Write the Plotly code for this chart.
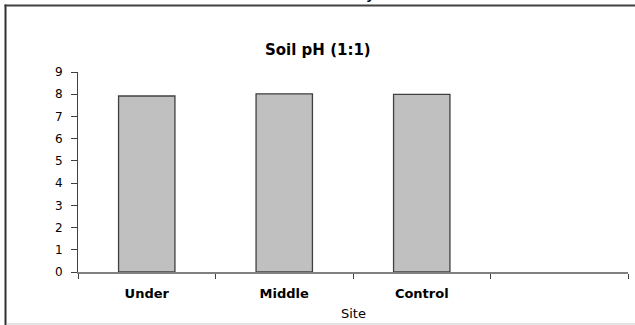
import plotly.graph_objects as go

categories = ["Under", "Middle", "Control", " "]
ph_values = [7.92, 8.02, 7.99, None]
y_ticks = [0, 1, 2, 3, 4, 5, 6, 7, 8, 9]
chart_title = "Soil pH (1:1)"
x_title = "Site"

W, H = 635, 325
L, R, T, B = 78, 7, 72, 53
pw, ph = W - L - R, H - T - B

def px(x):
    return (x - L) / pw

def py(y):
    return (H - B - y) / ph

fig = go.Figure()
fig.add_trace(go.Bar(
    x=categories, y=ph_values,
    marker=dict(color="#C0C0C0", line=dict(color="#404040", width=1.3)),
    width=0.41,
))

font = "DejaVu Sans, Verdana, sans-serif"
fig.update_layout(
    width=W, height=H,
    margin=dict(l=L, r=R, t=T, b=B),
    paper_bgcolor="white", plot_bgcolor="white",
    showlegend=False,
    font=dict(family=font, color="black", size=12),
    xaxis=dict(
        type="category", categoryorder="array", categoryarray=categories,
        range=[-0.5, 3.5], tickson="boundaries",
        showline=True, linecolor="#808080", linewidth=2,
        ticks="outside", ticklen=5, tickcolor="#404040", tickwidth=1,
        showgrid=False, zeroline=False,
        tickfont=dict(family=font, size=13, color="black", weight="bold"),
        ticklabelstandoff=8,
    ),
    yaxis=dict(
        range=[0, 9], tickvals=y_ticks,
        showline=True, linecolor="#404040", linewidth=1,
        ticks="outside", ticklen=6, tickcolor="#404040", tickwidth=1,
        showgrid=False, zeroline=False,
        tickfont=dict(family=font, size=12, color="black"),
        ticklabelstandoff=6,
    ),
    shapes=[
        dict(type="line", xref="paper", yref="paper", x0=px(5.5), x1=px(5.5), y0=py(4.5), y1=py(326),
             line=dict(color="#303030", width=2)),
        dict(type="line", xref="paper", yref="paper", x0=px(4.5), x1=px(636), y0=py(5.5), y1=py(5.5),
             line=dict(color="#404040", width=2)),
        dict(type="line", xref="paper", yref="paper", x0=px(6.5), x1=px(636), y0=py(324), y1=py(324),
             line=dict(color="#C8C8C8", width=1)),
    ],
    annotations=[
        dict(text=chart_title, xref="paper", yref="paper", x=px(318), y=py(50),
             xanchor="center", yanchor="middle", showarrow=False,
             font=dict(family=font, size=15, color="black", weight="bold")),
        dict(text=x_title, xref="paper", yref="paper", x=px(353), y=py(313),
             xanchor="center", yanchor="middle", showarrow=False,
             font=dict(family=font, size=13, color="black")),
        dict(text="y", xref="paper", yref="paper", x=px(370), y=py(-6),
             xanchor="center", yanchor="middle", showarrow=False,
             font=dict(family=font, size=13, color="black", weight="bold")),
    ],
)

fig.write_html("out.html")
